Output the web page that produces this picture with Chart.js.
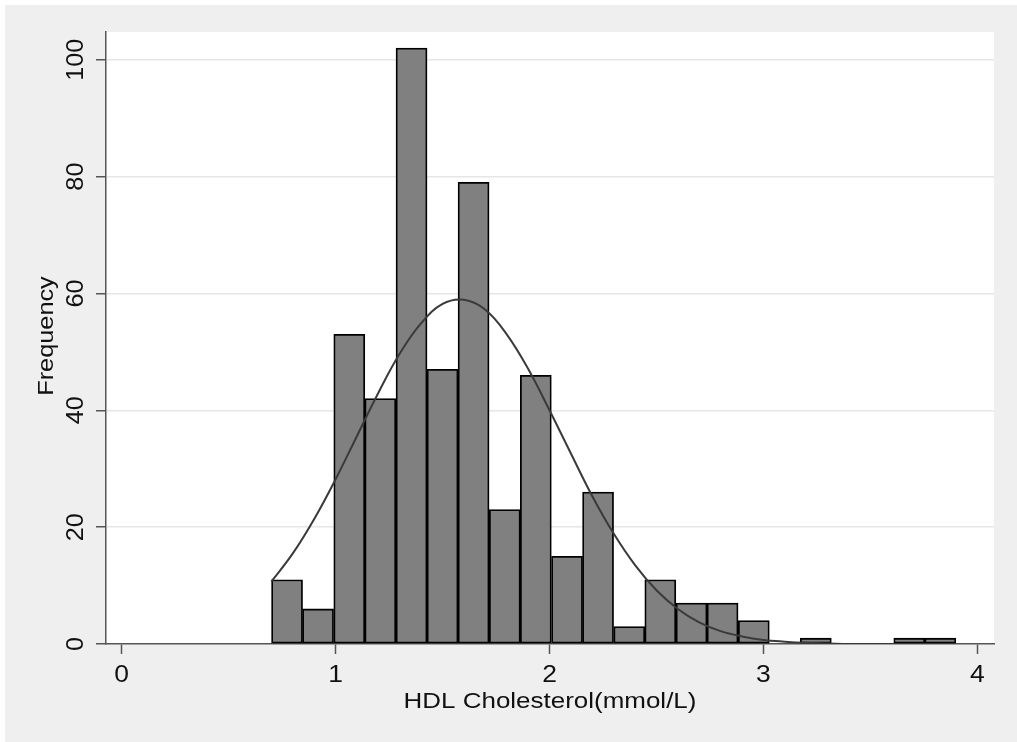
<!DOCTYPE html>
<html>
<head>
<meta charset="utf-8">
<script src="https://cdn.jsdelivr.net/npm/chart.js@4"></script>
<style>
  html, body { margin: 0; padding: 0; background: #efefef; overflow: hidden; }
  canvas { display: block; }
</style>
</head>
<body>
<canvas id="chart" width="1017" height="742"></canvas>
<script>
// histogram bins (centres) and counts
const binCenters = [0.773, 0.918, 1.064, 1.209, 1.355, 1.500, 1.645, 1.791, 1.936, 2.082, 2.227,
                    2.373, 2.518, 2.664, 2.809, 2.955, 3.100, 3.245, 3.391, 3.536, 3.682, 3.827];
const counts = [11, 6, 53, 42, 102, 47, 79, 23, 46, 15, 26, 3, 11, 7, 7, 4, 0, 1, 0, 0, 1, 1];

// normal density overlay
const curveX = [0.7, 0.8, 0.9, 1.0, 1.1, 1.2, 1.3, 1.4, 1.5, 1.6, 1.7, 1.8, 1.9, 2.0, 2.1, 2.2, 2.3,
                2.4, 2.5, 2.6, 2.7, 2.8, 2.9, 3.0, 3.1, 3.2, 3.3, 3.4, 3.5, 3.6, 3.7, 3.8, 3.9];
const curveY = [10.7, 15.5, 21.4, 28.2, 35.6, 43.0, 49.7, 54.9, 58.2, 58.9, 57.2, 53.0, 47.1, 40.0, 32.6, 25.3, 18.9,
                13.5, 9.2, 6.0, 3.7, 2.2, 1.3, 0.7, 0.4, 0.2, 0.1, 0, 0, 0, 0, 0, 0];

const xTicks = [0, 1, 2, 3, 4];
const yTicks = [0, 20, 40, 60, 80, 100];
const xTitle = 'HDL Cholesterol(mmol/L)';
const yTitle = 'Frequency';

const ctx = document.getElementById('chart');

const background = {
  id: 'background',
  beforeDraw(chart) {
    const c = chart.ctx;
    const a = chart.chartArea;
    c.save();
    c.fillStyle = '#ffffff';
    c.fillRect(0, 0, chart.width, chart.height);
    c.fillStyle = '#efefef';
    c.fillRect(5, 5, chart.width - 5, chart.height - 5);
    c.fillStyle = '#ffffff';
    c.fillRect(a.left, a.top, a.right - a.left, a.bottom - a.top);
    c.restore();
  }
};

// stretched text like the original's font
function drawText(c, txt, x, y, size, stretch, rot) {
  c.save();
  c.translate(x, y);
  if (rot) c.rotate(rot);
  c.scale(stretch, 1);
  c.font = size + 'px "Liberation Sans", Arial, sans-serif';
  c.fillText(txt, 0, 0);
  c.restore();
}

const labels = {
  id: 'labels',
  afterDraw(chart) {
    const c = chart.ctx;
    const xs = chart.scales.x;
    const ys = chart.scales.y;
    const a = chart.chartArea;
    c.save();
    c.fillStyle = '#111';
    c.textAlign = 'center';
    c.textBaseline = 'alphabetic';
    xTicks.forEach(v => drawText(c, String(v), xs.getPixelForValue(v), 682, 23, 1.15, 0));
    yTicks.forEach(v => drawText(c, String(v), 83, ys.getPixelForValue(v), 23, 1.1, -Math.PI / 2));
    drawText(c, xTitle, (a.left + a.right) / 2, 708, 22, 1.18, 0);
    drawText(c, yTitle, 53, 336, 22, 1.15, -Math.PI / 2);
    c.restore();
  }
};

new Chart(ctx, {
  type: 'bar',
  data: {
    datasets: [{
      type: 'line',
      data: curveX.map((x, i) => ({ x: x, y: curveY[i] })),
      borderColor: '#3a3a3a',
      borderWidth: 2,
      pointRadius: 0,
      tension: 0.4,
      fill: false,
      order: 1
    }, {
      type: 'bar',
      data: binCenters.map((x, i) => ({ x: x, y: counts[i] })),
      backgroundColor: '#808080',
      borderColor: '#000',
      borderWidth: 1.8,
      borderSkipped: false,
      barPercentage: 1,
      categoryPercentage: 1,
      order: 2
    }]
  },
  options: {
    responsive: false,
    animation: false,
    layout: { padding: { top: 32, right: 23, left: 0, bottom: 0 } },
    plugins: {
      legend: { display: false },
      tooltip: { enabled: false }
    },
    scales: {
      x: {
        type: 'linear',
        offset: false,
        min: -0.0734,
        max: 4.078,
        afterBuildTicks: s => { s.ticks = xTicks.map(v => ({ value: v })); },
        afterFit: s => { s.height = 98; },
        ticks: { display: false },
        grid: { offset: false, drawOnChartArea: false, drawTicks: true, tickLength: 10, tickColor: '#555', tickWidth: 1.5 },
        border: { color: '#555', width: 1.5 }
      },
      y: {
        min: 0,
        max: 104.74,
        afterBuildTicks: s => { s.ticks = yTicks.map(v => ({ value: v })); },
        afterFit: s => { s.width = 106; },
        ticks: { display: false },
        grid: {
          color: c => (c.tick && c.tick.value === 0) ? 'rgba(0,0,0,0)' : '#e6e6e6',
          lineWidth: 1.5,
          drawTicks: true,
          tickLength: 10,
          tickColor: '#555',
          tickWidth: 1.5
        },
        border: { color: '#555', width: 1.5 }
      }
    }
  },
  plugins: [background, labels]
});
</script>
</body>
</html>
